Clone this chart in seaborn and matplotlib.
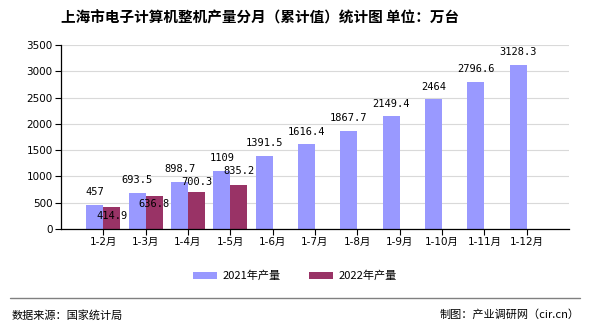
import numpy as np
import pandas as pd
import matplotlib
matplotlib.use("Agg")
import matplotlib.pyplot as plt
import seaborn as sns

months = ["1-2月", "1-3月", "1-4月", "1-5月", "1-6月", "1-7月", "1-8月",
          "1-9月", "1-10月", "1-11月", "1-12月"]
output_2021 = [457, 693.5, 898.7, 1109, 1391.5, 1616.4, 1867.7, 2149.4,
               2464, 2796.6, 3128.3]
output_2022 = [414.9, 636.8, 700.3, 835.2]
series_names = ["2021年产量", "2022年产量"]
colors = ["#9999FF", "#993366"]
# vertical offsets (points) of the value labels, per series
label_offsets_2021 = [9] * len(output_2021)
label_offsets_2022 = [-6, -6, 7, 10]

sns.set_theme(style="white")
plt.rcParams["font.family"] = ["Noto Sans CJK SC", "DejaVu Sans"]
plt.rcParams["text.color"] = "black"
plt.rcParams["xtick.color"] = "black"
plt.rcParams["ytick.color"] = "black"

df = pd.DataFrame({
    "month": months * 2,
    "value": output_2021 + output_2022 + [np.nan] * (len(months) - len(output_2022)),
    "series": [series_names[0]] * len(months) + [series_names[1]] * len(months),
})

fig = plt.figure(figsize=(5.9, 3.3), dpi=100)
ax = fig.add_axes([61 / 590, 1 - 229 / 330, 508 / 590, 184 / 330])

sns.barplot(data=df, x="month", y="value", hue="series", order=months,
            hue_order=series_names, palette=colors, width=0.8, dodge=True,
            saturation=1, linewidth=0, edgecolor="none", ax=ax, legend=True)

ax.set_xlim(-1, len(months))
ax.set_ylim(0, 3500)
ax.set_yticks(np.arange(0, 3501, 500))
ax.set_xlabel("")
ax.set_ylabel("")
ax.yaxis.grid(True, color="#d9d9d9", linewidth=0.8)
ax.set_axisbelow(True)
for s in ["top", "right"]:
    ax.spines[s].set_visible(False)
for s in ["left", "bottom"]:
    ax.spines[s].set_color("black")
    ax.spines[s].set_linewidth(0.9)
ax.tick_params(axis="both", which="both", direction="out", length=4, width=0.8,
               color="black", labelcolor="black", labelsize=7.5, pad=2,
               left=True, bottom=True)
for lab in ax.get_xticklabels() + ax.get_yticklabels():
    lab.set_fontfamily(["DejaVu Sans", "Noto Sans CJK SC"])

# value labels above each bar
for container, vals, offs in zip(ax.containers,
                                 [output_2021, output_2022],
                                 [label_offsets_2021, label_offsets_2022]):
    for bar, v, off in zip(container.patches, vals, offs):
        x = bar.get_x() + bar.get_width() / 2
        txt = f"{v:g}"
        ax.annotate(txt, (x, v), xytext=(0, off), textcoords="offset points",
                    ha="center", va="center", fontsize=7.5,
                    family="DejaVu Sans Mono", color="black")

leg = ax.legend(loc="center", bbox_to_anchor=(295 / 590, 1 - 276 / 330),
                bbox_transform=fig.transFigure, ncol=2, frameon=False,
                fontsize=8, handlelength=2.2, handleheight=0.6,
                columnspacing=2.5, handletextpad=0.5)
for t in leg.get_texts():
    t.set_color("black")

fig.text(0.5 - 35 / 590, 1 - 18 / 330,
         "上海市电子计算机整机产量分月（累计值）统计图 单位：万台",
         ha="center", va="center", fontsize=10.5, fontweight="bold",
         color="black")

fig.add_artist(plt.Line2D([10 / 590, 580 / 590], [1 - 298 / 330] * 2,
                          color="#808080", linewidth=1, transform=fig.transFigure))
fig.text(12 / 590, 1 - 315 / 330, "数据来源：国家统计局", ha="left", va="center",
         fontsize=8)
fig.text(580 / 590, 1 - 315 / 330, "制图：产业调研网（cir.cn）", ha="right",
         va="center", fontsize=8)

fig.savefig("out.png", dpi=100)
